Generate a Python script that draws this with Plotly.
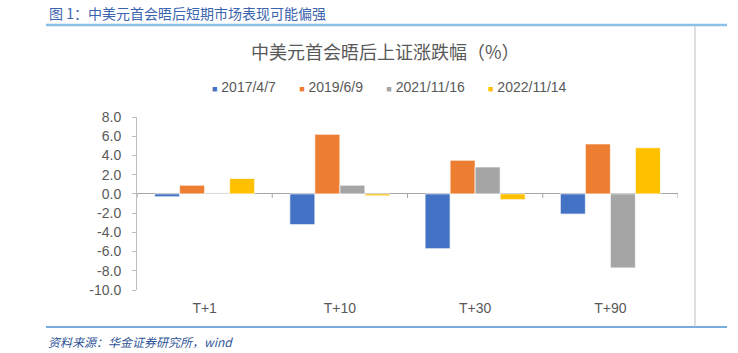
import plotly.graph_objects as go

categories = ["T+1", "T+10", "T+30", "T+90"]
s2017 = [-0.3, -3.2, -5.7, -2.1]
s2019 = [0.9, 6.2, 3.5, 5.2]
s2021 = [0.1, 0.9, 2.8, -7.7]
s2022 = [1.6, -0.2, -0.6, 4.8]
series_names = ["2017/4/7", "2019/6/9", "2021/11/16", "2022/11/14"]
series_colors = ["#4472C4", "#ED7D31", "#A5A5A5", "#FFC000"]
y_ticks = [8, 6, 4, 2, 0, -2, -4, -6, -8, -10]

W, H = 738, 353
L, R, T, B = 137, 678, 117, 290  # plot area in pixels
FONT = "Liberation Sans, Arial, Noto Sans CJK SC"
CJK = "Noto Sans CJK SC, Liberation Sans"

def px(x):
    return (x - L) / (R - L)

def py(y):
    return (B - y) / (B - T)

fig = go.Figure()
for name, vals, col in zip(series_names, [s2017, s2019, s2021, s2022], series_colors):
    fig.add_trace(go.Bar(x=categories, y=vals, name=name, showlegend=False,
                         marker=dict(color=col, line=dict(color="white", width=0.7))))

shapes = []
# category boundary ticks on the zero line
for i in range(len(categories) + 1):
    shapes.append(dict(type="line", xref="x", yref="y", x0=i - 0.5, x1=i - 0.5,
                       ysizemode="pixel", yanchor=0, y0=0, y1=-4,
                       line=dict(color="#A6A6A6", width=1)))
# frame decorations
shapes.append(dict(type="line", xref="paper", yref="paper", x0=px(46), x1=px(727),
                   y0=py(25), y1=py(25), line=dict(color="#8DC0E6", width=2.5)))
shapes.append(dict(type="line", xref="paper", yref="paper", x0=px(46), x1=px(727),
                   y0=py(327), y1=py(327), line=dict(color="#4A90D0", width=1.5)))
shapes.append(dict(type="line", xref="paper", yref="paper", x0=px(695), x1=px(695),
                   y0=py(26), y1=py(327), line=dict(color="#BFBFBF", width=1)))

legend_text = ("&nbsp;" * 6).join(
    f'<span style="color:{c};font-size:9px">■</span>&nbsp;{n}'
    for n, c in zip(series_names, series_colors))

annotations = [
    dict(text="图 1：中美元首会晤后短期市场表现可能偏强", xref="paper", yref="paper",
         x=px(47), y=py(13), xanchor="left", yanchor="middle", showarrow=False,
         font=dict(family=CJK, size=14, color="#3B64AE")),
    dict(text="中美元首会晤后上证涨跌幅（%）", xref="paper", yref="paper",
         x=px(385), y=py(51), xanchor="center", yanchor="middle", showarrow=False,
         font=dict(family=CJK, size=18, color="#595959")),
    dict(text=legend_text, xref="paper", yref="paper",
         x=px(389), y=py(87), xanchor="center", yanchor="middle", showarrow=False,
         font=dict(family=FONT, size=14, color="#595959")),
    dict(text="<i>资料来源：华金证券研究所，wind</i>", xref="paper", yref="paper",
         x=px(46), y=py(341), xanchor="left", yanchor="middle", showarrow=False,
         font=dict(family=CJK, size=12, color="#2F5597")),
]

fig.update_layout(
    width=W, height=H,
    margin=dict(l=L, r=W - R, t=T, b=H - B, pad=0),
    paper_bgcolor="white", plot_bgcolor="white",
    barmode="group", bargap=0.26, bargroupgap=0,
    font=dict(family=FONT, size=14, color="#595959"),
    showlegend=False,
    xaxis=dict(type="category", categoryarray=categories, range=[-0.5, len(categories) - 0.5],
               showline=False, showgrid=False, ticks="", ticklabelstandoff=8,
               tickfont=dict(family=FONT, size=14, color="#595959")),
    yaxis=dict(range=[-10, 8], tickvals=y_ticks, ticktext=[f"{v:.1f}" for v in y_ticks],
               showgrid=False, showline=True, linecolor="#BFBFBF", linewidth=1,
               ticks="outside", ticklen=4, tickcolor="#BFBFBF", ticklabelstandoff=8,
               zeroline=True, zerolinecolor="#A6A6A6", zerolinewidth=1,
               tickfont=dict(family=FONT, size=14, color="#595959")),
    shapes=shapes, annotations=annotations,
)

fig.write_html("out.html")
